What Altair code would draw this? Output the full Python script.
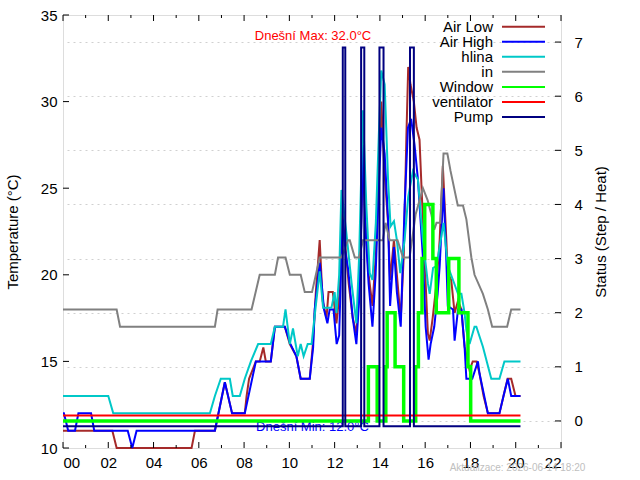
import altair as alt
import pandas as pd

FONT = "Liberation Sans"

# ---------------- data (hours of day, values) ----------------
air_low_hours = [0.00, 1.34, 2.18, 2.37, 5.68, 5.83, 6.71, 7.15, 7.47, 8.03, 8.11, 8.22, 8.52, 8.69, 8.85, 8.96,
                 9.18, 9.36, 9.80, 10.02, 10.31, 10.50, 10.90, 11.04, 11.17, 11.34, 11.47, 11.64, 11.73, 11.92,
                 12.08, 12.22, 12.32, 12.45, 12.62, 12.80, 12.96, 13.08, 13.25, 13.37, 13.50, 13.67, 13.81, 13.95,
                 14.06, 14.20, 14.36, 14.45, 14.62, 14.75, 14.92, 15.05, 15.17, 15.25, 15.35, 15.50, 15.62, 15.75,
                 15.84, 15.97, 16.12, 16.20, 16.33, 16.50, 16.64, 16.78, 16.90, 17.00, 17.15, 17.30, 17.45, 17.60,
                 17.74, 17.96, 18.10, 18.27, 18.40, 18.58, 18.77, 19.28, 19.46, 19.64, 19.80, 19.99, 20.21]
air_low_vals = [11, 11, 11, 10, 10, 11, 11, 13.8, 12, 12, 13, 14, 15, 15, 15.8, 15,
                15, 17, 17, 16, 15.3, 14, 14, 16, 19, 22, 18.5, 17.5, 19, 19,
                17.2, 19, 23.9, 22, 19.5, 17.5, 16.6, 19, 26.2, 23, 20, 18.2, 21, 26,
                30, 26, 23, 19.7, 22, 20, 17.4, 21, 28, 32, 31, 30, 28.5, 27.8,
                25, 21, 16.6, 16.2, 17.5, 19.5, 22, 26.3, 23, 20.1, 19.7, 17.8, 18.5, 18,
                15.85, 14.5, 15, 15, 14.3, 13, 12, 12, 13, 14, 14, 13, 13]

air_high_hours = [0.00, 0.04, 0.23, 0.53, 0.68, 1.24, 1.38, 2.86, 3.06, 3.25, 6.71, 7.15, 7.47, 8.03, 8.52, 9.18,
                  9.36, 9.80, 10.05, 10.31, 10.50, 10.90, 11.05, 11.12, 11.34, 11.53, 11.68, 11.78, 11.95, 12.09,
                  12.20, 12.30, 12.36, 12.45, 12.60, 12.80, 12.96, 13.08, 13.18, 13.25, 13.35, 13.50, 13.67, 13.81,
                  13.95, 14.06, 14.21, 14.36, 14.45, 14.62, 14.75, 14.92, 15.09, 15.24, 15.38, 15.53, 15.68, 15.90,
                  16.02, 16.15, 16.24, 16.40, 16.55, 16.64, 16.81, 16.93, 17.00, 17.23, 17.30, 17.45, 17.60, 17.74,
                  17.82, 18.08, 18.33, 18.40, 18.77, 19.28, 19.46, 19.65, 19.80, 20.21]
air_high_vals = [12, 12, 11, 11, 12, 12, 11, 11, 10, 11, 11, 13.8, 12, 12, 15, 15,
                 17, 17, 16, 15.3, 14, 14, 15.8, 18, 20.7, 18, 17.2, 18, 18, 16,
                 16.5, 21, 23.2, 21.5, 20.3, 17.5, 16, 18.5, 23, 27.5, 23, 19.5, 17, 20,
                 25, 28.5, 27, 23.2, 18.2, 21.6, 19, 17, 23.9, 28.5, 29, 27.5, 25.5, 21,
                 17, 15.1, 16, 17, 18.9, 20.5, 25, 21, 18.2, 18, 16.2, 18, 18, 15.85,
                 14, 14, 15, 14.3, 12, 12, 13, 14, 13, 13]

hlina_hours = [0.00, 2.00, 2.22, 6.49, 6.71, 6.97, 7.37, 7.50, 7.81, 8.03, 8.30, 8.62, 9.18, 9.36, 9.72, 9.83,
               10.02, 10.16, 10.37, 10.50, 10.63, 10.81, 10.98, 11.15, 11.34, 11.49, 11.86, 12.00, 12.08, 12.20,
               12.30, 12.52, 12.75, 12.96, 13.08, 13.25, 13.40, 13.55, 13.67, 13.82, 13.95, 14.06, 14.21, 14.36,
               14.47, 14.62, 14.75, 14.90, 15.09, 15.25, 15.46, 15.68, 15.90, 16.12, 16.20, 16.35, 16.50, 16.81,
               17.00, 17.20, 17.45, 17.60, 17.74, 17.82, 17.96, 18.18, 18.26, 18.55, 18.92, 19.28, 19.50, 20.21]
hlina_vals = [13, 13, 12, 12, 13, 14, 14, 13, 13, 14, 15, 16, 16, 17, 17, 18,
              16, 16.9, 15.3, 16, 15.3, 16, 16, 18, 20.2, 18.1, 18.1, 19, 17.8, 20,
              24.9, 22.4, 19.5, 17.2, 21, 29.5, 24, 20.1, 19.7, 23, 28, 31.8, 31, 25.5,
              22.8, 23.1, 22, 20.1, 22, 24.5, 26, 25.5, 22, 19.5, 18.9, 20.4, 20.5, 23,
              20.5, 19.8, 18.9, 18.9, 17.8, 16.8, 16, 17, 17, 15.85, 14, 14, 15, 15]

in_hours = [0.00, 2.37, 2.52, 6.71, 6.83, 8.33, 8.69, 9.36, 9.50, 9.83, 10.02, 10.50, 10.68, 11.00, 11.34, 12.30,
            12.59, 12.67, 12.89, 13.08, 13.25, 14.13, 14.25, 14.43, 14.78, 15.02, 15.31, 15.58, 15.90, 16.11,
            16.27, 16.40, 16.50, 16.67, 16.81, 16.98, 17.12, 17.44, 17.67, 17.82, 18.04, 18.18, 18.55, 18.77,
            18.96, 19.62, 19.80, 20.21]
in_vals = [18, 18, 17, 17, 18, 18, 20, 20, 21, 21, 20, 20, 19, 19, 21, 21,
           22, 22, 21, 21, 22, 22, 23, 22, 22, 21, 21, 23.5, 25, 24.3,
           23.5, 22.6, 23, 23, 27, 27, 26, 24, 24, 23.2, 21, 20, 18.9, 18,
           17, 17, 18, 18]

window_hours = [0, 13.49, 13.88, 14.26, 14.32, 14.67, 15.05, 15.58, 15.70, 15.86, 15.98, 16.34, 16.49,
                17.04, 17.49, 17.89, 18.01, 20.21]
window_vals = [0, 1, 0, 1, 2, 1, 0, 1, 2, 3, 4, 3, 2, 3, 2, 1, 0, 0]

vent_hours = [0, 20.21]
vent_vals = [0, 0]

pump_hours = [0, 12.36, 12.47, 13.17, 13.31, 13.98, 14.16, 15.33, 15.50, 20.21]
pump_vals = [0, 7, 0, 7, 0, 7, 0, 7, 0, 0]

series_names = ["Air Low", "Air High", "hlina", "in", "Window", "ventilator", "Pump"]
series_colors = ["#a52a2a", "#0000ff", "#00c8c8", "#808080", "#00ff00", "#ff0000", "#000080"]
series_widths = [2, 2, 2, 2, 3.5, 2, 2]

x_major = [0, 2, 4, 6, 8, 10, 12, 14, 16, 18, 20, 22]
x_minor = [1, 3, 5, 7, 9, 11, 13, 15, 17, 19, 21]
temp_ticks = [10, 15, 20, 25, 30, 35]
status_ticks = [0, 1, 2, 3, 4, 5, 6, 7]

# ---------------- layout ----------------
W, H = 498, 433
x_scale = alt.Scale(domain=[0, 22], nice=False, zero=False)
t_scale = alt.Scale(domain=[10, 35], nice=False, zero=False)
s_scale = alt.Scale(domain=[-0.5, 7.5], nice=False, zero=False)

x_axis = alt.Axis(values=x_major, format="02d", title=None, tickSize=0, labelPadding=7,
                  labelFont=FONT, labelFontSize=15, labelColor="black", domain=False, grid=False)
X = alt.X("h:Q", scale=x_scale, axis=x_axis)

t_axis = alt.Axis(values=temp_ticks, orient="left", title="Temperature (°C)", tickSize=0, labelPadding=6,
                  titlePadding=20, labelFont=FONT, labelFontSize=15, titleFont=FONT, titleFontSize=15,
                  titleFontWeight="normal", labelColor="black", titleColor="black", domain=False, grid=False)
s_axis = alt.Axis(values=status_ticks, orient="right", title="Status (Step / Heat)", titleAngle=270,
                  tickSize=0, labelPadding=13, titlePadding=26, labelFont=FONT, labelFontSize=15,
                  titleFont=FONT, titleFontSize=15, titleFontWeight="normal", labelColor="black",
                  titleColor="black", domain=False, grid=True, gridDash=[2, 4], gridColor="#d0d0d0")


def temp_line(hours, vals, name, axis=None):
    i = series_names.index(name)
    df = pd.DataFrame({"h": hours, "v": vals})
    return alt.Chart(df).mark_line(color=series_colors[i], strokeWidth=series_widths[i]).encode(
        x=X, y=alt.Y("v:Q", scale=t_scale, axis=axis))


def status_line(hours, vals, name, offset, axis=None):
    i = series_names.index(name)
    df = pd.DataFrame({"h": hours, "v": vals})
    return alt.Chart(df).transform_calculate(vo=f"datum.v + ({offset})").mark_line(
        color=series_colors[i], strokeWidth=series_widths[i], interpolate="step-after").encode(
        x=X, y=alt.Y("vo:Q", scale=s_scale, axis=axis))


min_text = alt.Chart(pd.DataFrame({"t": ["Dnešní Min: 12.0°C"]})).mark_text(
    font=FONT, fontSize=13, color="#0000ff", align="center", baseline="middle").encode(
    x=alt.value(249.5), y=alt.value(412), text="t:N")
max_text = alt.Chart(pd.DataFrame({"t": ["Dnešní Max: 32.0°C"]})).mark_text(
    font=FONT, fontSize=13, color="#ff0000", align="center", baseline="middle").encode(
    x=alt.value(250), y=alt.value(21), text="t:N")
upd_text = alt.Chart(pd.DataFrame({"t": ["Aktualizace: 2026-06-14 18:20"]})).mark_text(
    font=FONT, fontSize=10, color="#c0c0c0", align="center", baseline="middle").encode(
    x=alt.value(454.5), y=alt.value(453), text="t:N")

# inward ticks
left_ticks = alt.Chart(pd.DataFrame({"v": temp_ticks})).mark_rule(color="black").encode(
    x=alt.value(0), x2=alt.value(6), y=alt.Y("v:Q", scale=t_scale, axis=None))
right_ticks = alt.Chart(pd.DataFrame({"v": status_ticks})).mark_rule(color="black").encode(
    x=alt.value(W - 6), x2=alt.value(W), y=alt.Y("v:Q", scale=s_scale, axis=None))
bot_major = alt.Chart(pd.DataFrame({"h": x_major})).mark_rule(color="black").encode(
    x=X, y=alt.value(H - 6), y2=alt.value(H))
bot_minor = alt.Chart(pd.DataFrame({"h": x_minor})).mark_rule(color="black").encode(
    x=X, y=alt.value(H - 3), y2=alt.value(H))
top_major = alt.Chart(pd.DataFrame({"h": x_major})).mark_rule(color="black").encode(
    x=X, y=alt.value(0), y2=alt.value(6))
top_minor = alt.Chart(pd.DataFrame({"h": x_minor})).mark_rule(color="black").encode(
    x=X, y=alt.value(0), y2=alt.value(3))

# legend (gnuplot style: labels right-aligned, sample line to the right)
legend_df = pd.DataFrame({"name": series_names, "row": list(range(len(series_names)))})
y_leg = alt.Y("row:Q", scale=alt.Scale(domain=[0, 6], range=[11.7, 102]), axis=None)
legend_text = alt.Chart(legend_df).mark_text(align="right", baseline="middle", font=FONT, fontSize=15,
                                             color="black").encode(x=alt.value(430), y=y_leg, text="name:N")
legend_lines = alt.Chart(legend_df).mark_rule().encode(
    x=alt.value(439), x2=alt.value(482), y=y_leg,
    color=alt.Color("name:N", scale=alt.Scale(domain=series_names, range=series_colors), legend=None),
    strokeWidth=alt.StrokeWidth("name:N", scale=alt.Scale(domain=series_names, range=series_widths), legend=None))

chart = alt.layer(
    min_text,
    temp_line(air_low_hours, air_low_vals, "Air Low", axis=t_axis),
    temp_line(air_high_hours, air_high_vals, "Air High"),
    temp_line(hlina_hours, hlina_vals, "hlina"),
    temp_line(in_hours, in_vals, "in"),
    status_line(window_hours, window_vals, "Window", 0, axis=s_axis),
    status_line(vent_hours, vent_vals, "ventilator", 0.1),
    status_line(pump_hours, pump_vals, "Pump", -0.1),
    left_ticks, right_ticks, bot_major, bot_minor, top_major, top_minor,
    legend_lines, legend_text, max_text, upd_text,
).resolve_scale(y="independent").properties(
    width=W, height=H,
    autosize=alt.AutoSizeParams(type="none"),
    padding={"left": 63, "top": 15, "right": 79, "bottom": 32},
).configure_view(stroke="black", strokeWidth=1).configure(background="white")

chart.save("out.html", embed_options={"renderer": "svg", "actions": False})
